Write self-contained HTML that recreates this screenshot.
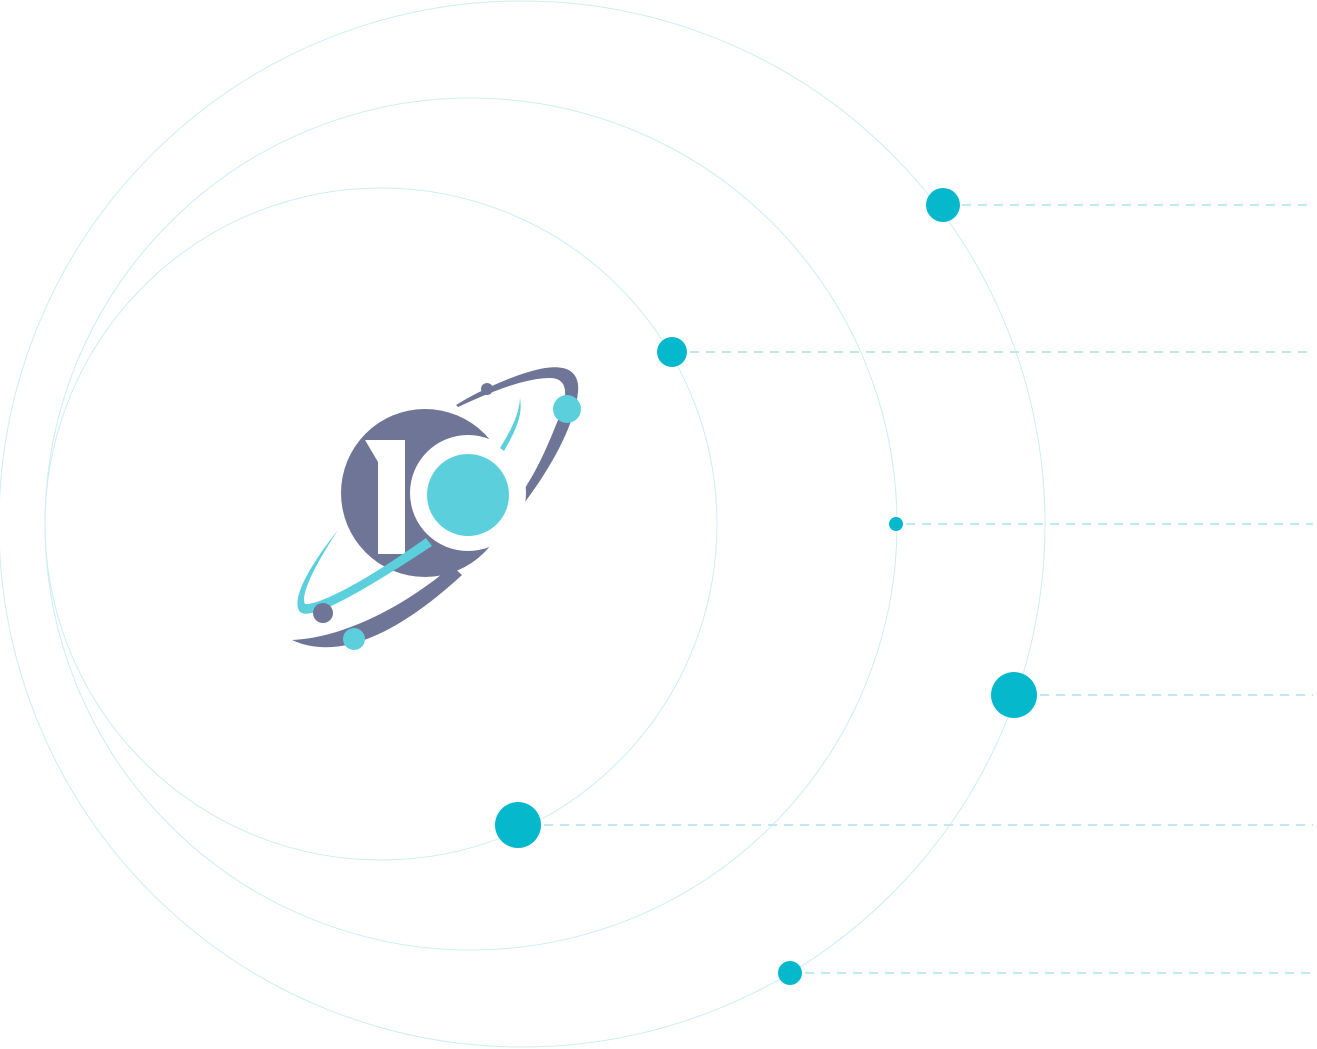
<!DOCTYPE html>
<html><head><meta charset="utf-8"><style>html,body{margin:0;padding:0;background:#fff}svg{display:block}</style></head>
<body>
<svg width="1317" height="1049" viewBox="0 0 1317 1049" xmlns="http://www.w3.org/2000/svg">
<g fill="none" stroke="#cdeef2" stroke-width="1">
<circle cx="522" cy="524" r="523"/>
<circle cx="471" cy="524" r="426"/>
<circle cx="381" cy="524" r="336"/>
</g>
<g stroke="#bfe9ee" stroke-width="2" stroke-dasharray="9,7">
<line x1="962" y1="205" x2="1313" y2="205"/>
<line x1="690" y1="352" x2="1313" y2="352"/>
<line x1="906" y1="524" x2="1313" y2="524"/>
<line x1="1040" y1="695" x2="1313" y2="695"/>
<line x1="544" y1="825" x2="1313" y2="825"/>
<line x1="805" y1="973" x2="1313" y2="973"/>
</g>
<g fill="#05b8cc">
<circle cx="943" cy="205" r="17"/>
<circle cx="672" cy="352" r="15"/>
<circle cx="896" cy="524" r="7"/>
<circle cx="1014" cy="695" r="23"/>
<circle cx="518" cy="825" r="23"/>
<circle cx="790" cy="973" r="12"/>
</g>
<!-- logo -->
<path d="M292,640 C340,662 400,632 462,575 L452,566 C400,610 340,638 292,640 Z" fill="#6e7597"/>
<path d="M525,502 C555,462 575,422 578,392 C580,370 565,365 545,368 C520,372 480,390 456,405 L458,407 C490,392 525,378 550,378 C568,378 568,395 560,415 C550,440 540,465 525,488 Z" fill="#6e7597"/>
<circle cx="425" cy="493" r="84" fill="#6e7597"/>
<path d="M365,440 L405,440 L405,554 L378,554 L378,462 Z" fill="#fff"/>
<circle cx="468" cy="493" r="58" fill="#fff"/>
<circle cx="468" cy="495" r="41" fill="#5bd0dc"/>
<path d="M338,530 C310,565 290,600 300,612 C310,620 350,600 432,546 L426,538 C360,585 318,605 305,604 C300,595 315,565 338,530 Z" fill="#5bd0dc"/>
<path d="M520,398 C519,415 511,430 500,448 L504,451 C516,430 523,415 520,398 Z" fill="#5bd0dc"/>
<circle cx="487" cy="389" r="6" fill="#6e7597"/>
<circle cx="567" cy="409" r="14" fill="#5bd0dc"/>
<circle cx="323" cy="613" r="10" fill="#6e7597"/>
<circle cx="354" cy="639" r="11" fill="#5bd0dc"/>
</svg>
</body></html>
